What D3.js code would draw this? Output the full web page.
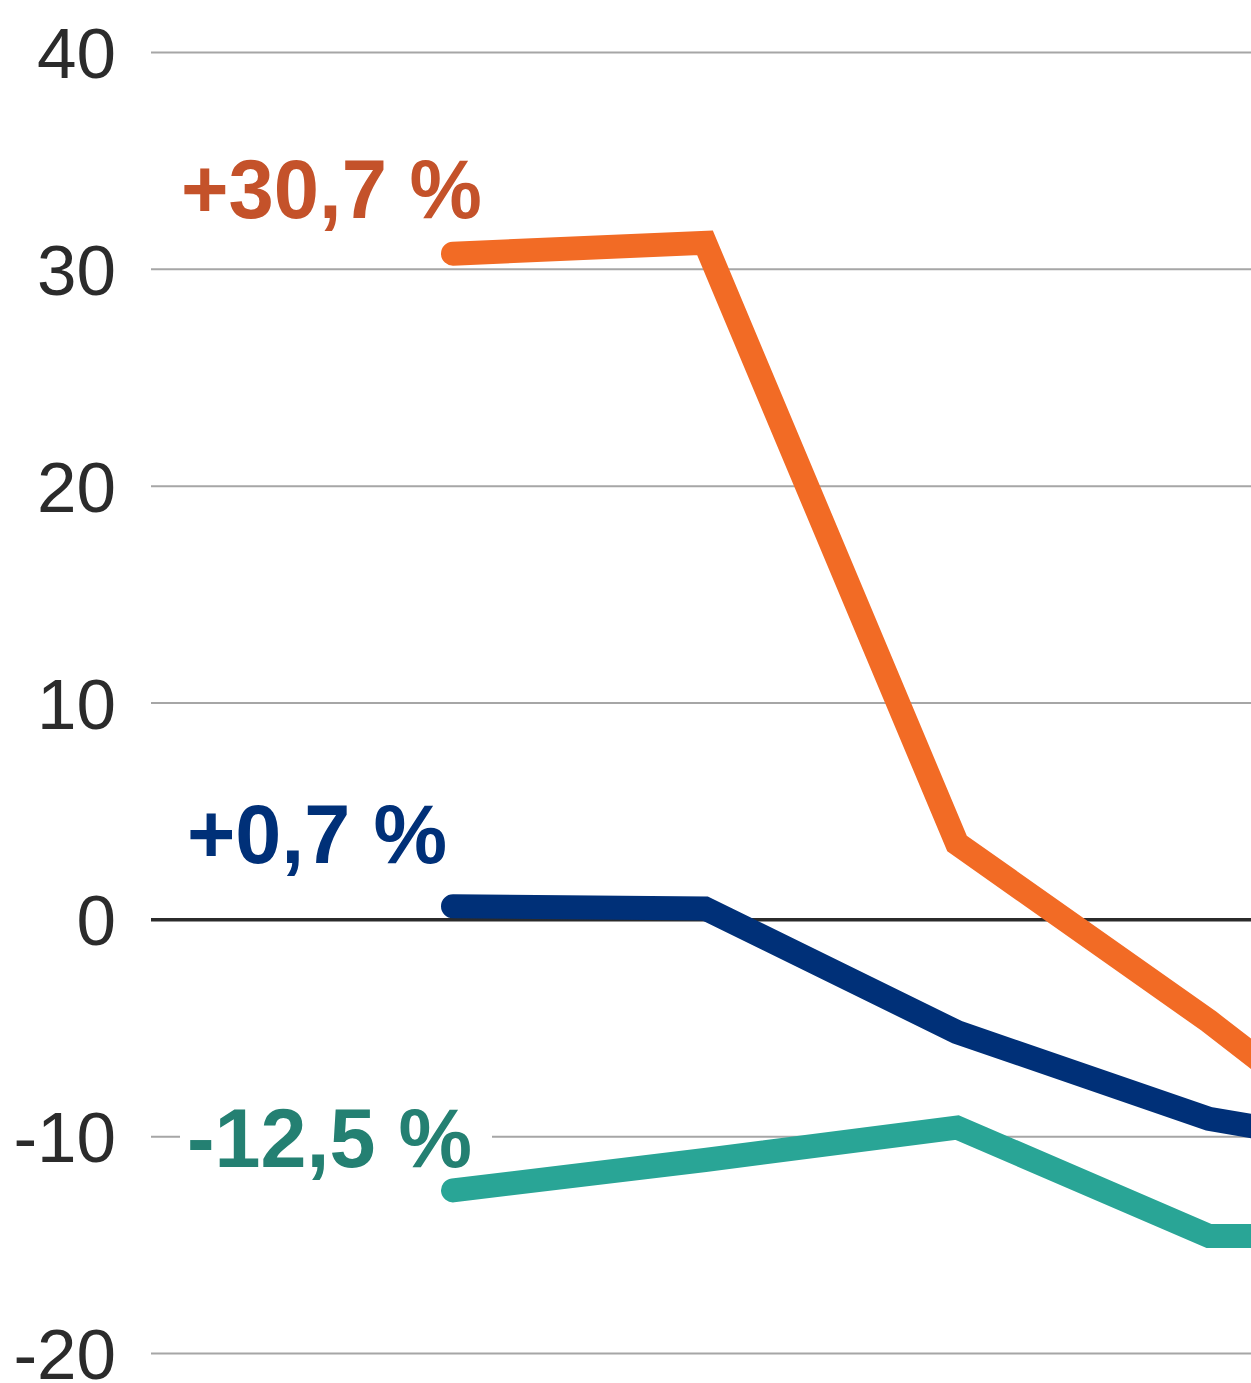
<!DOCTYPE html>
<html>
<head>
<meta charset="utf-8">
<script src="https://cdn.jsdelivr.net/npm/d3@7"></script>
<style>
  body { margin: 0; background: #fff; }
  svg { display: block; font-family: 'Liberation Sans', Arial, sans-serif; }
</style>
</head>
<body>
<svg></svg>
<script>
const steps = [0, 1, 2, 3, 4]
const orange = [30.7, 31.2, 3.5, -4.7, -13.7]
const navy = [0.6, 0.5, -5.2, -9.2, -11.2]
const teal = [-12.5, -11.1, -9.6, -14.6, -14.6]
const labels = ['+30,7 %', '+0,7 %', '-12,5 %']
const yTicks = [-20, -10, 0, 10, 20, 30, 40]

const outerWidth = 1251
const outerHeight = 1383

const series = [
  { values: orange, line: '#f26b25', text: '#c4522a', label: labels[0], lx: 181, ly: 218, len: 301 },
  { values: navy, line: '#003078', text: '#003078', label: labels[1], lx: 187, ly: 863, len: 260 },
  { values: teal, line: '#29a596', text: '#248072', label: labels[2], lx: 187, ly: 1167, len: 285 },
]

const x = d3.scaleLinear()
  .domain([0, 4])
  .range([453, 453 + 4 * 252])

const y = d3.scaleLinear()
  .domain([-20, 40])
  .range([1353, 52])

const svg = d3.select('svg')
  .attr('width', outerWidth)
  .attr('height', outerHeight)

// gridlines + tick labels (plain hyphen for negatives, like the original)
const axis = svg.append('g')
  .attr('transform', `translate(151,0)`)
  .call(d3.axisLeft(y).tickValues(yTicks).tickSize(-1200).tickPadding(35).tickFormat(d => String(d)))

axis.select('.domain').remove()
axis.selectAll('.tick line')
  .attr('stroke', d => d === 0 ? '#2b2b2b' : '#a6a6a6')
  .attr('stroke-width', d => d === 0 ? 3.5 : 2)
axis.selectAll('.tick text')
  .attr('fill', '#2b2b2b')
  .attr('font-size', 71)
  .attr('font-family', "'Liberation Sans', Arial, sans-serif")
  .attr('dy', '0.36em')

const line = d3.line()
  .x((d, i) => x(steps[i]))
  .y(d => y(d))

svg.selectAll('.series')
  .data(series)
  .enter().append('path')
    .attr('class', 'series')
    .attr('d', d => line(d.values))
    .attr('fill', 'none')
    .attr('stroke', d => d.line)
    .attr('stroke-width', 24)
    .attr('stroke-linecap', 'round')
    .attr('stroke-linejoin', 'miter')

// white patch behind the teal label so the -10 gridline breaks
svg.append('rect')
  .attr('x', 180).attr('y', y(-10) - 10)
  .attr('width', 312).attr('height', 20)
  .attr('fill', '#fff')

svg.selectAll('.label')
  .data(series)
  .enter().append('text')
    .attr('class', 'label')
    .attr('x', d => d.lx)
    .attr('y', d => d.ly)
    .attr('fill', d => d.text)
    .attr('font-size', 84)
    .attr('font-weight', 'bold')
    .attr('textLength', d => d.len)
    .attr('lengthAdjust', 'spacingAndGlyphs')
    .text(d => d.label)
</script>
</body>
</html>
